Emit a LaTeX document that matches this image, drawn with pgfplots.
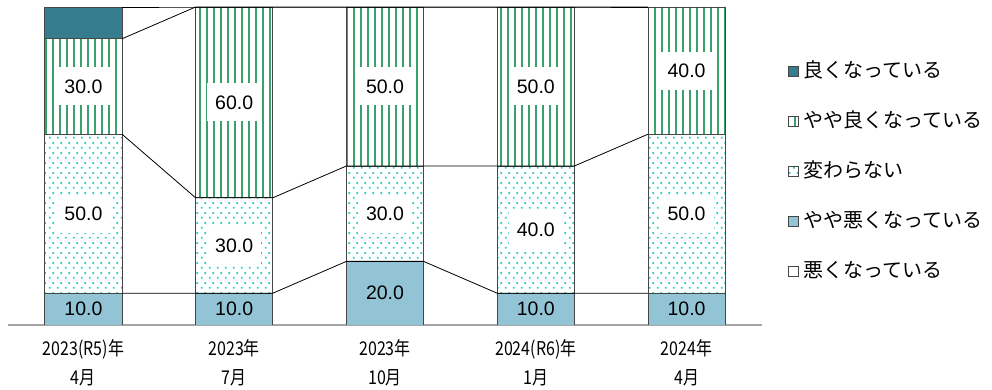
\documentclass[border=0pt]{standalone}
\usepackage{pgfplots}
\pgfplotsset{compat=1.18}
\usepackage{pgfplotstable}
\usepackage{fontspec}
\usetikzlibrary{patterns.meta}
\setmainfont{Liberation Sans}
\newfontfamily\jpfont{Noto Sans CJK JP}
\newfontfamily\jpnarrow{Noto Sans CJK JP}[FakeStretch=0.84]

\definecolor{goodteal}{RGB}{52,124,142}
\definecolor{stripegreen}{RGB}{58,160,108}
\definecolor{dotcyan}{RGB}{40,208,198}
\definecolor{lightblue}{RGB}{146,196,214}
\definecolor{bardraw}{RGB}{70,70,70}
\definecolor{axisgray}{RGB}{165,165,165}

% vertical stripes, 7pt pitch (tall tile keeps the stripes unbroken)
\pgfdeclarepattern{
  name=vstripes, type=uncolored,
  bottom left={\pgfpoint{0pt}{-1pt}}, top right={\pgfpoint{7pt}{71pt}},
  tile size={\pgfpoint{7pt}{70pt}},
  code={
    \pgfpathrectangle{\pgfpoint{2.5pt}{-1pt}}{\pgfpoint{2pt}{72pt}}
    \pgfusepath{fill}
  }
}
% staggered small dots
\pgfdeclarepattern{
  name=stagdots, type=uncolored,
  bottom left={\pgfpoint{0pt}{0pt}}, top right={\pgfpoint{8pt}{10pt}},
  tile size={\pgfpoint{8pt}{10pt}},
  code={
    \pgfpathrectangle{\pgfpoint{1pt}{1.5pt}}{\pgfpoint{2pt}{2pt}}
    \pgfpathrectangle{\pgfpoint{5pt}{6.5pt}}{\pgfpoint{2pt}{2pt}}
    \pgfusepath{fill}
  }
}

% share of answers (%), bottom to top of each bar
\pgfplotstableread{
x  bad  sbad  same  sgood  good
0  0    10    50    30     10
1  0    10    30    60     0
2  0    20    30    50     0
3  0    10    40    50     0
4  0    10    50    40     0
}\survey

\begin{document}
\begin{tikzpicture}
\useasboundingbox (-8pt,-65pt) rectangle (984pt,325pt);
\pgfplotsset{
  frame/.style={
    at={(0pt,0pt)}, anchor=south west,
    scale only axis, width=754pt, height=318pt,
    xmin=-0.5, xmax=4.5, ymin=0, ymax=100,
  },
  % value label placed in the middle of its segment
  valuelabel/.style={
    only marks, mark=none,
    nodes near coords,
    point meta=explicit,
    nodes near coords={\pgfmathprintnumber[fixed,fixed zerofill,precision=1,assume math mode=true]{\pgfplotspointmeta}},
    every node near coord/.append style={
      anchor=center,
      font=\fontsize{19.5}{20}\selectfont, text=black,
      inner xsep=8pt, inner ysep=0pt, minimum height=38pt, #1},
  },
}
\begin{axis}[frame,
  ybar stacked, bar width=0.512,
  axis y line=none, axis x line*=bottom,
  x axis line style={-, draw=axisgray, line width=2.5pt},
  xtick={0,1,2,3,4}, major tick length=0pt,
  xticklabels={{2023(R5)年\\4月},{2023年\\7月},{2023年\\10月},{2024(R6)年\\1月},{2024年\\4月}},
  xticklabel style={align=center, font=\jpnarrow\fontsize{19}{29}\selectfont, yshift=-11pt},
  reverse legend,
  legend image code/.code={\draw[#1, draw=bardraw, line width=0.8pt] (-4pt,-5pt) rectangle (6pt,5pt);},
  legend style={at={(1.03,0.835)}, anchor=north west, draw=none, fill=none,
    font=\jpfont\fontsize{20}{22}\selectfont, row sep=30pt,
    nodes={inner ysep=0pt, inner xsep=5pt, text height=16pt, text depth=4pt}},
  legend cell align=left,
]
\addplot[draw=bardraw, line width=0.8pt, fill=white] table[x=x, y=bad] {\survey};
\addlegendentry{悪くなっている}
\addplot[draw=bardraw, line width=0.8pt, fill=lightblue] table[x=x, y=sbad] {\survey};
\addlegendentry{やや悪くなっている}
\addplot[draw=bardraw, line width=0.8pt, pattern=stagdots, pattern color=dotcyan] table[x=x, y=same] {\survey};
\addlegendentry{変わらない}
\addplot[draw=bardraw, line width=0.8pt, pattern=vstripes, pattern color=stripegreen] table[x=x, y=sgood] {\survey};
\addlegendentry{やや良くなっている}
\addplot[draw=bardraw, line width=0.8pt, fill=goodteal] table[x=x, y=good] {\survey};
\addlegendentry{良くなっている}
\end{axis}

\begin{axis}[frame, hide axis]
% series lines joining the cumulative boundaries of neighbouring bars
\addplot[black, line width=0.8pt] coordinates {
  (0.256,10) (0.744,10) (1.256,10) (1.744,20) (2.256,20) (2.744,10) (3.256,10) (3.744,10)};
\addplot[black, line width=0.8pt] coordinates {
  (0.256,60) (0.744,40) (1.256,40) (1.744,50) (2.256,50) (2.744,50) (3.256,50) (3.744,60)};
\addplot[black, line width=0.8pt] coordinates {
  (0.256,90) (0.744,100) (1.256,100) (1.744,100) (2.256,100) (2.744,100) (3.256,100) (3.744,100)};
\addplot[black, line width=0.8pt] coordinates {
  (0.256,100) (0.744,100) (1.256,100) (1.744,100) (2.256,100) (2.744,100) (3.256,100) (3.744,100)};
% segment values
\addplot[valuelabel={fill=none}]
  table[x=x, y expr={\thisrow{bad}+\thisrow{sbad}/2}, meta=sbad] {\survey};
\addplot[valuelabel={fill=white}]
  table[x=x, y expr={\thisrow{bad}+\thisrow{sbad}+\thisrow{same}/2}, meta=same] {\survey};
\addplot[valuelabel={fill=white}]
  table[x=x, y expr={\thisrow{bad}+\thisrow{sbad}+\thisrow{same}+\thisrow{sgood}/2}, meta=sgood] {\survey};
\end{axis}
\end{tikzpicture}
\end{document}
